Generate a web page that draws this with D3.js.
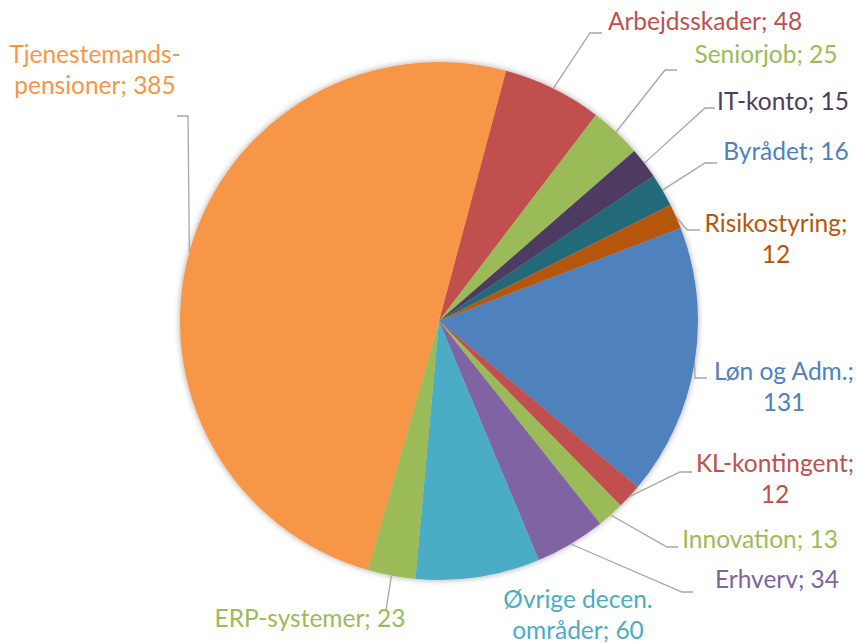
<!DOCTYPE html>
<html>
<head>
<meta charset="utf-8">
<script src="https://cdn.jsdelivr.net/npm/d3@7"></script>
<style>
  html, body { margin: 0; padding: 0; background: #ffffff; }
  svg { display: block; }
  text { font-family: Lato, "Open Sans", sans-serif; }
</style>
</head>
<body>
<svg id="chart" width="857" height="643"></svg>
<script>
// ---- data ----
const categories = ["Arbejdsskader", "Seniorjob", "IT-konto", "Byrådet", "Risikostyring",
  "Løn og Adm.", "KL-kontingent", "Innovation", "Erhverv", "Øvrige decen. områder",
  "ERP-systemer", "Tjenestemands-pensioner"];
const values = [48, 25, 15, 16, 12, 131, 12, 13, 34, 60, 23, 385];
const sliceColors = ["#C0504D", "#9BBB59", "#4D3B62", "#246B7A", "#B65708",
  "#4F81BD", "#C0504D", "#9BBB59", "#8064A2", "#4BACC6", "#9BBB59", "#F79646"];
const labelColors = ["#C0504D", "#9BBB59", "#4D3B62", "#4F81BD", "#B65708",
  "#4F81BD", "#C0504D", "#9BBB59", "#8064A2", "#4BACC6", "#9BBB59", "#F79646"];

// ---- label layout (positions only) ----
const labelLayout = [
  { x: 705, y: 30,  breakAfter: null,             elbow: [590, 33], end: 602 },
  { x: 766, y: 63,  breakAfter: null,             elbow: [665, 70], end: 677 },
  { x: 783, y: 110, breakAfter: null,             elbow: [705, 108], end: 715 },
  { x: 786, y: 160, breakAfter: null,             elbow: [705, 163], end: 717 },
  { x: 776, y: 232, breakAfter: "Risikostyring;", elbow: [687, 230], end: 700 },
  { x: 784, y: 380, breakAfter: "Løn og Adm.;",   elbow: [695, 378], end: 707 },
  { x: 775, y: 472, breakAfter: "KL-kontingent;", elbow: [680, 472], end: 692 },
  { x: 760, y: 548, breakAfter: null,             elbow: [667, 547], end: 678 },
  { x: 777, y: 588, breakAfter: null,             elbow: [682, 592], end: 693 },
  { x: 578, y: 608, breakAfter: "Øvrige decen.",  elbow: null, end: null },
  { x: 310, y: 627, breakAfter: null,             elbow: [386, 610], end: 386 },
  { x: 95,  y: 63,  breakAfter: "Tjenestemands-", elbow: [188, 116], end: 177 }
];

const W = 857, H = 643;
const cx = 439, cy = 321, R = 259;
const startAngle = 15 * Math.PI / 180;
const fontSize = 24.5, lineGap = 30.5;

const svg = d3.select("#chart");
const defs = svg.append("defs");
const f = defs.append("filter").attr("id", "shadow")
  .attr("x", "-10%").attr("y", "-10%").attr("width", "120%").attr("height", "120%");
f.append("feDropShadow").attr("dx", 0).attr("dy", 0).attr("stdDeviation", 3)
  .attr("flood-color", "#000").attr("flood-opacity", 0.35);

const data = categories.map((c, i) => ({ cat: c, value: values[i], i }));
const pie = d3.pie().value(d => d.value).sort(null)
  .startAngle(startAngle).endAngle(startAngle + 2 * Math.PI);
const arcs = pie(data);
const arc = d3.arc().innerRadius(0).outerRadius(R);

const g = svg.append("g").attr("transform", `translate(${cx},${cy})`);
g.append("g").attr("filter", "url(#shadow)")
  .selectAll("path").data(arcs).join("path")
  .attr("d", arc)
  .attr("fill", d => sliceColors[d.data.i]);

// leader lines
const lines = svg.append("g");
arcs.forEach(a => {
  const L = labelLayout[a.data.i];
  if (!L.elbow) return;
  const mid = (a.startAngle + a.endAngle) / 2;
  const sx = cx + R * Math.sin(mid), sy = cy - R * Math.cos(mid);
  const pts = [[sx, sy], L.elbow, [L.end, L.elbow[1]]];
  lines.append("path")
    .attr("d", d3.line()(pts))
    .attr("fill", "none")
    .attr("stroke", "#A6A6A6")
    .attr("stroke-width", 1.3);
});

// labels
const labels = svg.append("g");
data.forEach(d => {
  const L = labelLayout[d.i];
  const full = d.cat + "; " + d.value;
  let parts = [full];
  if (L.breakAfter) {
    const k = full.indexOf(L.breakAfter) + L.breakAfter.length;
    parts = [full.slice(0, k).trim(), full.slice(k).trim()];
  }
  const t = labels.append("text")
    .attr("text-anchor", "middle")
    .attr("font-size", fontSize)
    .attr("fill", labelColors[d.i]);
  parts.forEach((p, j) => {
    t.append("tspan").attr("x", L.x).attr("y", L.y + j * lineGap).text(p);
  });
});
</script>
</body>
</html>
